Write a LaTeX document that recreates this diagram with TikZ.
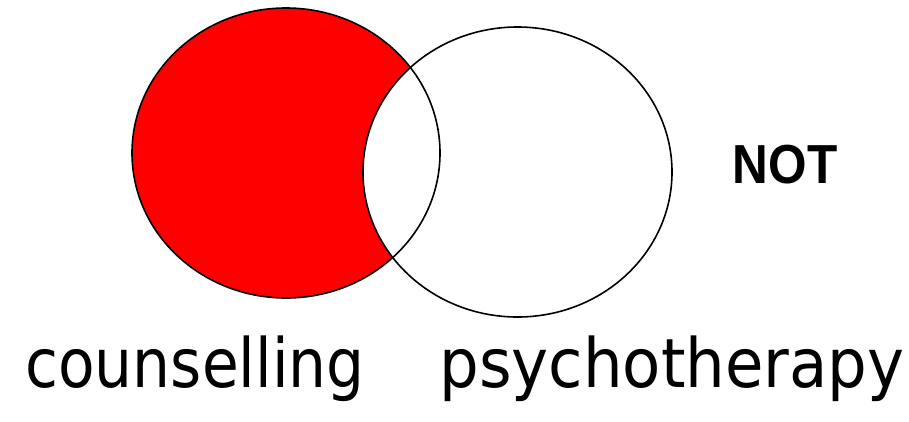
\documentclass[tikz,border=0pt]{standalone}
\usepackage{fontspec}
\setmainfont{DejaVu Sans}
\newfontfamily\notfont{Liberation Sans}
\begin{document}
\begin{tikzpicture}[x=1pt,y=-1pt,
  outline/.style={draw=black,line width=1.6pt},
  lbl/.style={anchor=base,inner sep=0pt,font=\fontsize{68}{80}\selectfont},
  notlbl/.style={anchor=base,inner sep=0pt,font=\notfont\bfseries\fontsize{55}{64}\selectfont}]
\useasboundingbox (0,0) rectangle (909,421);
\fill[red] (286,153) ellipse [x radius=154,y radius=145];
\begin{scope}
  \clip (286,153) ellipse [x radius=154,y radius=145];
  \fill[white] (517.5,172) ellipse [x radius=154.5,y radius=145];
\end{scope}
\draw[outline] (286,153) ellipse [x radius=154,y radius=145];
\draw[outline] (517.5,172) ellipse [x radius=154.5,y radius=145];
\node[notlbl] (not) at (785,183) {\scalebox{0.9}[1]{NOT}};
\node[lbl] (coun) at (195,387) {\scalebox{0.88}[1]{counselling}};
\node[lbl] (psy) at (672,387) {\scalebox{0.92}[1]{psychotherapy}};
\end{tikzpicture}
\end{document}
